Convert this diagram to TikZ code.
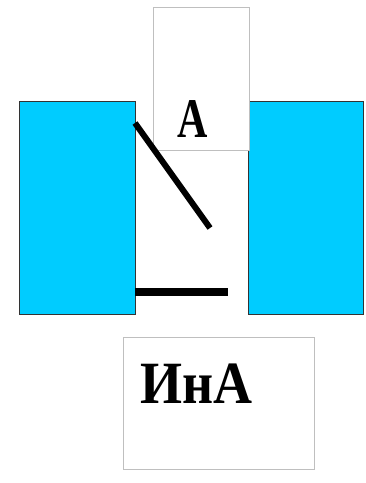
\documentclass[tikz,border=0pt]{standalone}
\usepackage{fontspec}
\setmainfont{Liberation Serif}
\definecolor{blockcyan}{RGB}{0,204,255}
\begin{document}
\begin{tikzpicture}[x=1pt, y=-1pt, every node/.style={inner sep=0pt}]
  \useasboundingbox (0,0) rectangle (365,483);
  \fill[white] (0,0) rectangle (365,483);
  % cyan blocks
  \filldraw[fill=blockcyan, draw=black!80, line width=1pt] (19,101) rectangle (135,314);
  \filldraw[fill=blockcyan, draw=black!80, line width=1pt] (248,101) rectangle (363,314);
  % card on top
  \filldraw[fill=white, draw=black!25, line width=0.8pt] (153,7) rectangle (249,150);
  \node[anchor=base, xscale=0.75, font=\fontsize{56}{56}\selectfont\bfseries] (upperA) at (192.5,137) {А};
  % switch blade and contact
  \draw[line width=6pt] (135,123) -- (210,228);
  \draw[line width=8pt] (135,292) -- (228,292);
  % card below
  \draw[black!25, line width=0.8pt] (123,337) rectangle (314,469);
  \node[anchor=base west, xscale=0.9, font=\fontsize{60}{60}\selectfont\bfseries] (lowerInA) at (140,403) {ИнА};
\end{tikzpicture}
\end{document}
